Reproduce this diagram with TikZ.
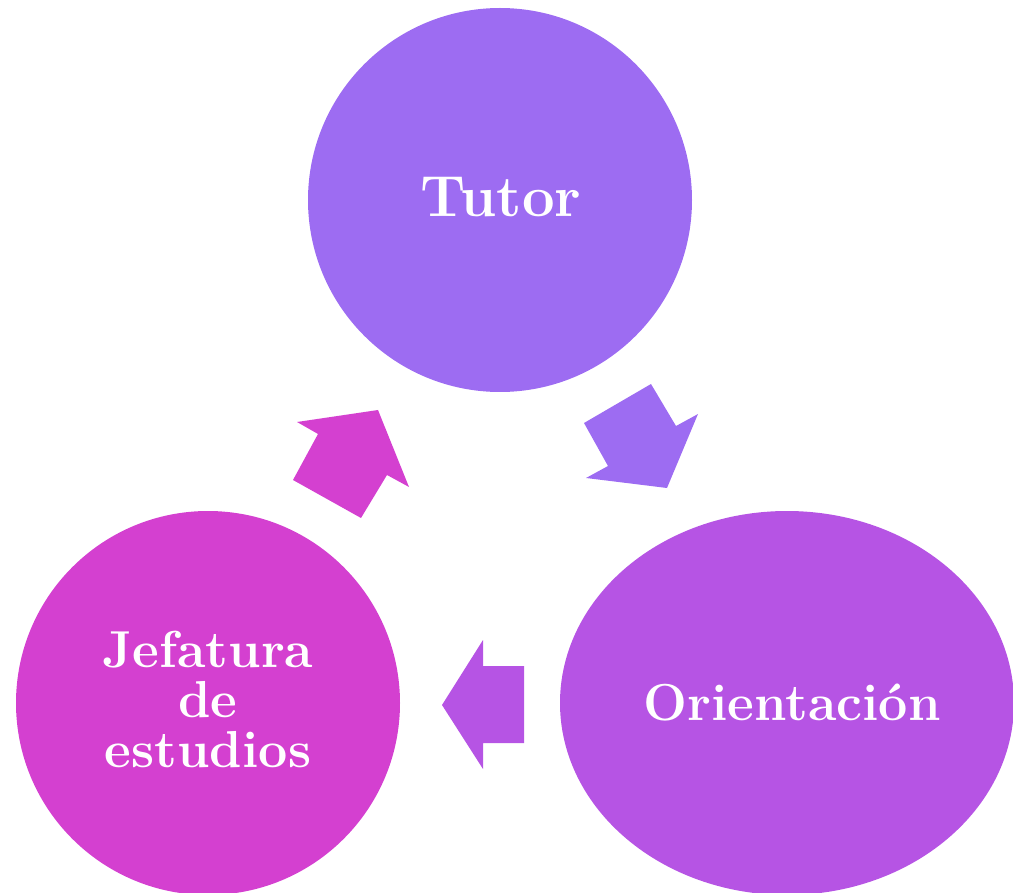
\documentclass[tikz,border=0pt]{standalone}
\definecolor{ctutor}{HTML}{9D6CF2}
\definecolor{corient}{HTML}{B654E4}
\definecolor{cjef}{HTML}{D440D0}
\begin{document}
\begin{tikzpicture}[x=1pt,y=-1pt,
  lbl/.style={text=white,font=\bfseries\fontsize{52}{50}\selectfont,align=center,inner sep=0pt}]
\useasboundingbox (0,0) rectangle (1013,893);
\clip (0,0) rectangle (1013,893);
\fill[ctutor] (500,200) circle[radius=192];
\fill[cjef] (208,703) circle[radius=192];
\fill[corient] (787,703) ellipse[x radius=227,y radius=192];
\node[lbl,font=\bfseries\fontsize{58}{60}\selectfont,anchor=base] (tutor) at (501,217) {Tutor};
\node[lbl,anchor=base] (jef) at (208,767) {Jefatura\\de\\estudios};
\node[lbl,anchor=base] (orient) at (792,720) {Orientación};
% arrows
\fill[cjef] (297,422) -- (378,410) -- (409,487) -- (387,475) -- (361,518) -- (293,480) -- (318,434) -- cycle;
\fill[ctutor] (651,384) -- (676,426) -- (698,414) -- (667,488) -- (586,478) -- (608,466) -- (584,423) -- cycle;
\fill[corient] (442,705) -- (483,640) -- (483,666) -- (524,666) -- (524,743) -- (483,743) -- (483,769) -- cycle;
\end{tikzpicture}
\end{document}
